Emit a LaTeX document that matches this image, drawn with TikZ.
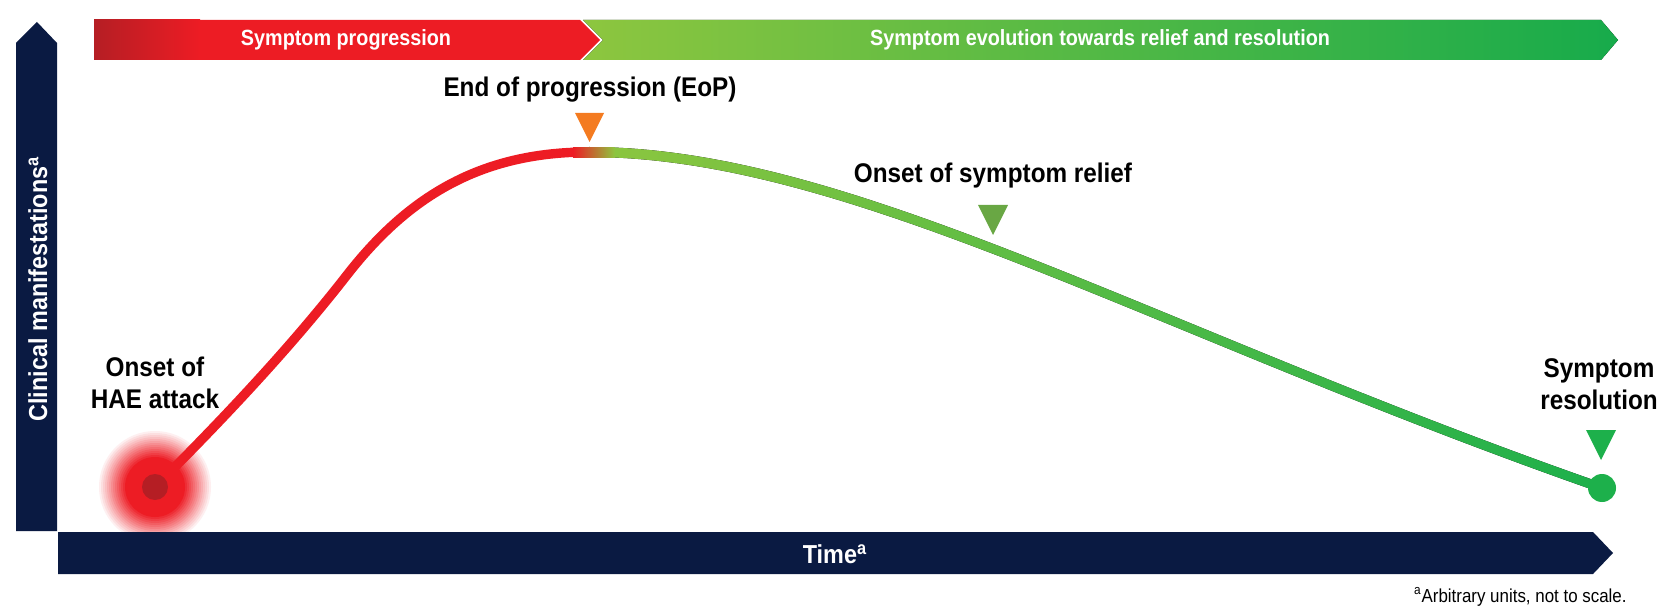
\documentclass[tikz,border=0pt]{standalone}
\usepackage{fontspec}
\setmainfont[FakeStretch=0.9]{Liberation Sans}
\usetikzlibrary{positioning}
\definecolor{navy}{HTML}{0A1A42}
\definecolor{attackred}{HTML}{ED1C24}
\definecolor{darkred}{HTML}{B51E24}
\definecolor{reliefstart}{HTML}{8DC63F}
\definecolor{reliefend}{HTML}{17AB4B}
\definecolor{eoporange}{HTML}{F47B20}
\definecolor{reliefmark}{HTML}{69A744}
\definecolor{resolgreen}{HTML}{1DB04B}
\tikzstyle{axis} = [fill=navy]
\tikzstyle{bartext} = [text=white, font=\bfseries\fontsize{11}{13}\selectfont, anchor=base, inner sep=0pt]
\tikzstyle{marktext} = [font=\bfseries\fontsize{13.5}{16}\selectfont, align=center, inner sep=0pt]
\tikzstyle{course} = [line width=4.7pt, attackred]

\begin{document}
\begin{tikzpicture}[x=0.5pt, y=-0.5pt]
\useasboundingbox (0,0) rectangle (1658,609);

 \coordinate (onset) at (155,487);
 \coordinate (mid) at (347,275);
 \coordinate (peak) at (589,152);
 \coordinate (resol) at (1602,488);

 % glow round the onset
 \foreach \r in {58,56,...,30}{
  \pgfmathtruncatemacro\p{100*(58-\r)/28}
  \fill[attackred!\p!white] (onset) circle (\r);
 }

 % axes
 \fill[axis] (16,531) -- (16,43) -- (37,22) -- (57,43) -- (57,531) -- cycle;
 \fill[axis] (58,532) -- (1593,532) -- (1613,553) -- (1593,574) -- (58,574) -- cycle;
 \node[bartext, rotate=90, font=\bfseries\fontsize{13}{15}\selectfont] (ylab) at (47,289) {Clinical manifestations\textsuperscript{a}};
 \node[bartext, font=\bfseries\fontsize{13}{15}\selectfont] (xlab) at (835,563) {Time\textsuperscript{a}};

 % phase bars
 \fill[left color=reliefstart, right color=reliefend] (583,20) -- (1601,20) -- (1618,40) -- (1601,60) -- (583,60) -- (603,40) -- cycle;
 \fill[left color=darkred, right color=attackred] (94,20) rectangle (200,60);
 \fill[attackred] (199,20) -- (580,20) -- (600,40) -- (580,60) -- (199,60) -- cycle;
 \node[bartext] (progbar) at (346,46) {Symptom progression};
 \node[bartext] (reliefbar) at (1100,46) {Symptom evolution towards relief and resolution};

 % course of the attack
 \draw[course] (onset) .. controls (217,425) and (287,352) .. (mid)
   .. controls (407,198) and (479,152) .. (peak);
 \begin{scope}
  \clip (589,147) .. controls (850,147) and (1150,325) .. (1602,483)
   -- (1602,493) .. controls (1150,335) and (850,157) .. (589,157) -- cycle;
  \fill[left color=reliefstart, right color=resolgreen] (589,140) rectangle (1602,500);
 \end{scope}
 \fill[left color=attackred, right color=reliefstart] (573,147.6) rectangle (615,157.2);
 \fill[darkred] (onset) circle (13);
 \fill[resolgreen] (resol) circle (14);

 % markers
 \fill[eoporange] (575,113) -- (604,113) -- (589.5,142) -- cycle;
 \fill[reliefmark] (978,205) -- (1008,205) -- (993,235) -- cycle;
 \fill[resolgreen] (1586,430) -- (1616,430) -- (1601,460) -- cycle;

 \node[marktext, anchor=base] (eop) at (590,97) {End of progression (EoP)};
 \node[marktext, anchor=base] (relief) at (993,183) {Onset of symptom relief};
 \node[marktext, anchor=south] (attack) at (155,409) {Onset of\\HAE attack};
 \node[marktext, anchor=south] (resolution) at (1599,410) {Symptom\\resolution};

 \node[anchor=base east, inner sep=0pt, font=\fontsize{9.4}{11}\selectfont] (note) at (1627,602) {\textsuperscript{a}Arbitrary units, not to scale.};
\end{tikzpicture}
\end{document}
